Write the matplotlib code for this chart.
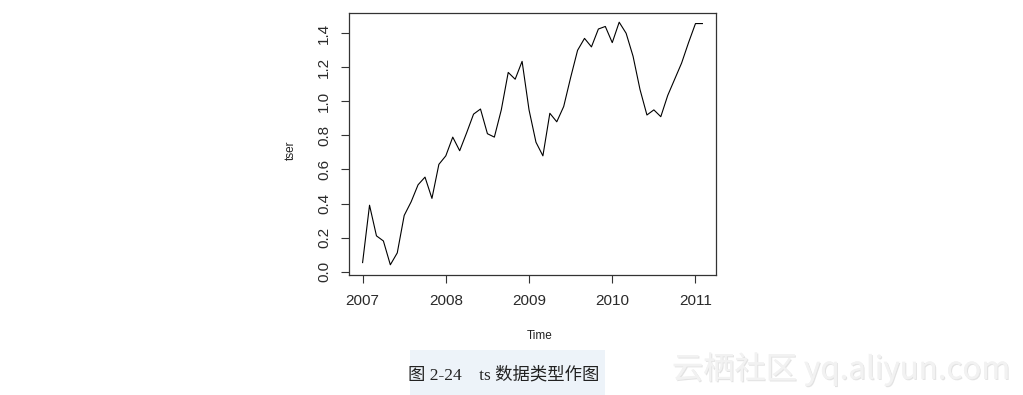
import matplotlib
matplotlib.use("Agg")
import matplotlib.pyplot as plt
import matplotlib.patheffects as pe
import numpy as np

# ---- data (monthly series, Jan 2007 - Feb 2011) ----
start_year = 2007
tser = [0.053, 0.39, 0.21, 0.18, 0.04, 0.11, 0.33, 0.41, 0.51, 0.555, 0.43, 0.63,
        0.68, 0.79, 0.71, 0.815, 0.925, 0.955, 0.81, 0.79, 0.95, 1.17, 1.13, 1.235,
        0.95, 0.76, 0.68, 0.93, 0.88, 0.97, 1.14, 1.30, 1.37, 1.32, 1.425, 1.44,
        1.345, 1.465, 1.40, 1.265, 1.07, 0.92, 0.95, 0.91, 1.035, 1.13, 1.225, 1.345,
        1.457, 1.457]
x_ticks = [2007, 2008, 2009, 2010, 2011]
y_ticks = [0.0, 0.2, 0.4, 0.6, 0.8, 1.0, 1.2, 1.4]
xlabel = "Time"
ylabel = "tser"
caption = "图 2-24　ts 数据类型作图"
watermark = "云栖社区 yq.aliyun.com"

times = start_year + np.arange(len(tser)) / 12.0

W, H = 1023, 395
fig = plt.figure(figsize=(W / 100, H / 100), dpi=100)

# axes box in pixels: left 349, right 716, top 12.5, bottom 274.5
L, R, T, B = 349, 716, 12.5, 274.5
ax = fig.add_axes([L / W, 1 - B / H, (R - L) / W, (B - T) / H])

ax.plot(times, tser, color="black", lw=0.8)

def rlim(vals):
    lo, hi = min(vals), max(vals)
    m = 0.04 * (hi - lo)
    return lo - m, hi + m

ax.set_xlim(*rlim(times))
ax.set_ylim(*rlim(tser))

for s in ax.spines.values():
    s.set_color("#333333")
    s.set_linewidth(0.9)

tick_font = dict(family="Liberation Sans", size=11, color="#2a2a2a")
ax.set_xticks(x_ticks)
ax.set_xticklabels([str(v) for v in x_ticks], **tick_font)
ax.set_yticks(y_ticks)
ax.set_yticklabels([f"{v:.1f}" for v in y_ticks], rotation=90, va="center", **tick_font)
ax.tick_params(axis="both", direction="out", length=6, width=0.8, color="#333333")
ax.tick_params(axis="x", pad=8)
ax.tick_params(axis="y", pad=7)

fig.text(540 / W, 1 - 336 / H, xlabel, ha="center", va="center",
         family="Liberation Sans", size=8.5, color="#222222")
fig.text(291 / W, 1 - 150 / H, ylabel, ha="center", va="center", rotation=90,
         family="Liberation Sans", size=8.5, color="#222222")

# faint blue publisher watermark block behind caption
fig.patches.append(plt.Rectangle((410 / W, 0), 195 / W, 45 / H, transform=fig.transFigure,
                                 facecolor="#edf3f9", edgecolor="none", zorder=0))

fig.text(504 / W, 1 - 375 / H, caption, ha="center", va="center",
         family=["Liberation Serif", "Noto Sans CJK SC"], size=12.5, color="#222222")

fig.text(1010 / W, 1 - 369 / H, watermark, ha="right", va="center",
         family=["Noto Sans CJK SC", "DejaVu Sans"], size=22.5, color="#f2f2f2",
         path_effects=[pe.withSimplePatchShadow(offset=(0.8, -0.8), shadow_rgbFace="#c8c8c8", alpha=0.5),
                       pe.Normal()])

fig.savefig("out.png", dpi=100)
